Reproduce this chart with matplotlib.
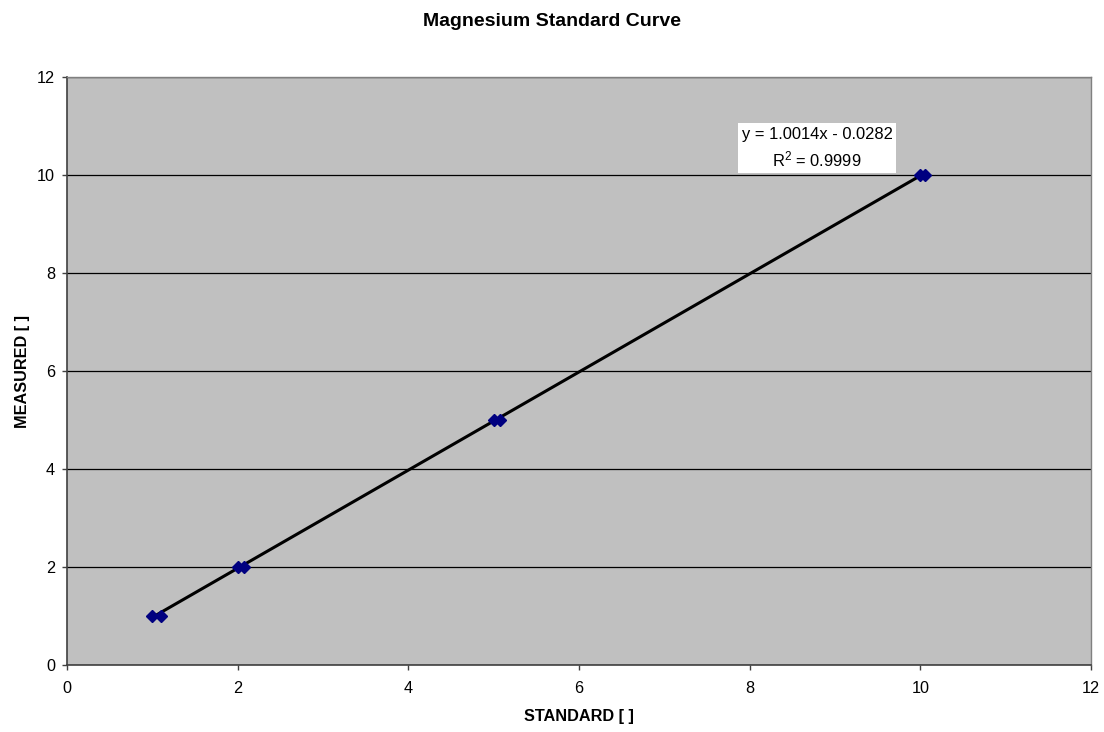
import matplotlib
matplotlib.use("Agg")
import matplotlib.pyplot as plt
import numpy as np

plt.rcParams['font.family'] = ['Liberation Sans', 'DejaVu Sans']

# Calibration data: standard concentration vs. measured concentration
standard = [1.0, 1.1, 2.0, 2.07, 5.0, 5.07, 10.0, 10.05]
measured = [1.0, 1.0, 2.0, 2.0, 5.0, 5.0, 10.0, 10.0]

# Linear trendline coefficients
slope = 1.0014
intercept = -0.0282
r_squared = 0.9999

fig = plt.figure(figsize=(11.04, 7.32), dpi=100)
ax = fig.add_axes([0.0607, 0.0915, 0.9275, 0.8033])
ax.set_facecolor('#C0C0C0')

ax.set_xlim(0, 12)
ax.set_ylim(0, 12)
ax.set_xticks(np.arange(0, 13, 2))
ax.set_yticks(np.arange(0, 13, 2))
ax.yaxis.grid(True, color='black', linewidth=0.9)
ax.set_axisbelow(True)

for side in ('left', 'bottom'):
    ax.spines[side].set_color('#404040')
    ax.spines[side].set_linewidth(1.2)
for side in ('top', 'right'):
    ax.spines[side].set_color('#808080')
    ax.spines[side].set_linewidth(1.0)

ax.tick_params(direction='out', length=3.6, width=1, color='#404040',
               labelsize=11.7)
ax.tick_params(axis='x', pad=8)
ax.tick_params(axis='y', pad=5)

# Trendline across the span of the data
xs = np.array([min(standard), max(standard)])
ax.plot(xs, slope * xs + intercept, color='black', linewidth=2.2, zorder=3)

ax.plot(standard, measured, linestyle='none', marker='D', markersize=6.5,
        markerfacecolor='#000080', markeredgecolor='#000080', zorder=4)

sign = '-' if intercept < 0 else '+'
label = f"y = {slope:.4f}x {sign} {abs(intercept):.4f}\n$\\mathregular{{R^2}}$ = {r_squared:.4f}"
ax.text(8.79, 10.55, label, ha='center', va='center', fontsize=11.9,
        linespacing=1.45,
        bbox=dict(facecolor='white', edgecolor='none', pad=2.5), zorder=5)

ax.set_xlabel('STANDARD [ ]', fontsize=11.7, fontweight='bold', labelpad=9)
ax.set_ylabel('MEASURED [ ]', fontsize=11.7, fontweight='bold', labelpad=5)
fig.text(0.5, 1 - 26 / 732, 'Magnesium Standard Curve', ha='center',
         va='baseline', fontsize=14, fontweight='bold')

fig.savefig('out.png', dpi=100)
